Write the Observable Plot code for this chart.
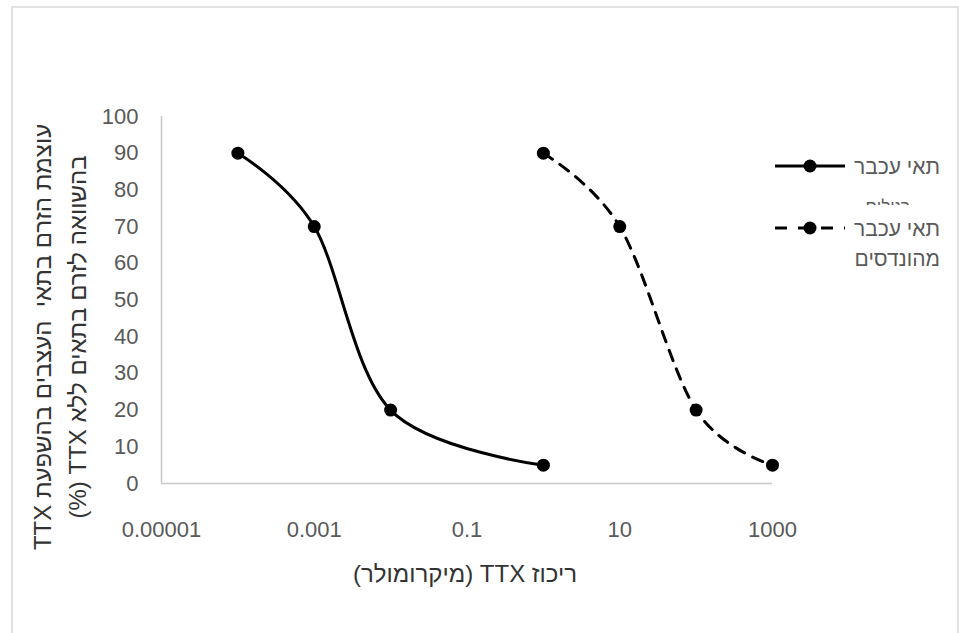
<!DOCTYPE html>
<html>
<head>
<meta charset="utf-8">
<script src="https://cdn.jsdelivr.net/npm/d3@7"></script>
<script src="https://cdn.jsdelivr.net/npm/@observablehq/plot@0.6"></script>
<style>
  html, body { margin: 0; padding: 0; background: #fff; }
  #chart { width: 959px; height: 633px; overflow: hidden; }
</style>
</head>
<body>
<div id="chart"></div>
<script>
// ---- data ----
const normalConc = [0.0001, 0.001, 0.01, 1];
const normalPct = [90, 70, 20, 5];
const engConc = [1, 10, 100, 1000];
const engPct = [90, 70, 20, 5];
const xTicks = [0.00001, 0.001, 0.1, 10, 1000];
const xTickLabels = ["0.00001", "0.001", "0.1", "10", "1000"];
const yTicks = [0, 10, 20, 30, 40, 50, 60, 70, 80, 90, 100];
const seriesNames = ["תאי עכבר רגילים", "תאי עכבר מהונדסים"];
const xTitle = "ריכוז TTX (מיקרומולר)";
const yTitleLines = ["עוצמת הזרם בתאי  העצבים בהשפעת TTX", "בהשוואה לזרם בתאים ללא TTX (%)"];

const normal = normalConc.map((c, i) => ({x: c, y: normalPct[i]}));
const eng = engConc.map((c, i) => ({x: c, y: engPct[i]}));
const tickLabel = new Map(xTicks.map((t, i) => [t, xTickLabels[i]]));

const FONT = "'Liberation Sans', Arial, sans-serif";

const plot = Plot.plot({
  width: 959,
  height: 633,
  marginLeft: 161,
  marginRight: 187,
  marginTop: 116,
  marginBottom: 150,
  style: {fontFamily: FONT, fontSize: "22px", color: "#595959", background: "transparent"},
  x: {type: "log", domain: [0.00001, 1000]},
  y: {domain: [0, 100]},
  marks: [
    Plot.axisX({ticks: xTicks, tickFormat: d => tickLabel.get(d), tickSize: 0, tickPadding: 38, label: null, fontSize: 22}),
    Plot.axisY({ticks: yTicks, tickFormat: d => String(d), tickSize: 0, tickPadding: 23, label: null, fontSize: 22}),
    Plot.ruleY([0], {stroke: "#c8c8c8", strokeWidth: 1.5}),
    Plot.ruleX([0.00001], {stroke: "#c8c8c8", strokeWidth: 1.5}),
    Plot.line(normal, {x: "x", y: "y", curve: "cardinal", tension: 0, stroke: "#000", strokeWidth: 3}),
    Plot.dot(normal, {x: "x", y: "y", r: 6.5, fill: "#000", stroke: null}),
    Plot.line(eng, {x: "x", y: "y", curve: "cardinal", tension: 0, stroke: "#000", strokeWidth: 3, strokeDasharray: "11,9"}),
    Plot.dot(eng, {x: "x", y: "y", r: 6.5, fill: "#000", stroke: null})
  ]
});

document.getElementById("chart").appendChild(plot);
const svg = d3.select(plot);

// outer chart border
svg.insert("rect", ":first-child")
  .attr("x", 12).attr("y", 7).attr("width", 946).attr("height", 640)
  .attr("fill", "none").attr("stroke", "#d9d9d9").attr("stroke-width", 1.5);

// axis titles
svg.append("text")
  .attr("x", 465).attr("y", 573)
  .attr("text-anchor", "middle").attr("dominant-baseline", "central")
  .style("direction", "rtl").style("unicode-bidi", "embed")
  .style("font-family", FONT).style("font-size", "24px").attr("fill", "#333")
  .text(xTitle);

const yCenter = 337;
[42, 77].forEach((xc, i) => {
  svg.append("text")
    .attr("transform", `translate(${xc},${yCenter}) rotate(-90)`)
    .attr("text-anchor", "middle").attr("dominant-baseline", "central")
    .style("direction", "rtl").style("unicode-bidi", "embed").style("white-space", "pre")
    .style("font-family", FONT).style("font-size", "24px").attr("fill", "#333")
    .text(yTitleLines[i]);
});

// legend
const lg = svg.append("g");
function legendItem(y, dashed) {
  lg.append("line").attr("x1", 775).attr("x2", 845).attr("y1", y).attr("y2", y)
    .attr("stroke", "#000").attr("stroke-width", 3)
    .attr("stroke-dasharray", dashed ? "12,11" : null);
  lg.append("circle").attr("cx", 810).attr("cy", y).attr("r", 6.5).attr("fill", "#000");
}
legendItem(166, false);
legendItem(228, true);

function legendText(y, txt, size) {
  return lg.append("text").attr("x", 940).attr("y", y)
    .attr("text-anchor", "end").attr("dominant-baseline", "central")
    .style("font-family", FONT).style("font-size", size + "px").attr("fill", "#595959")
    .text(txt);
}
const words0 = seriesNames[0].split(" ");
const words1 = seriesNames[1].split(" ");
legendText(166, words0.slice(0, 2).join(" "), 21);
// clipped second line of first legend entry
svg.append("defs").append("clipPath").attr("id", "lgclip")
  .append("rect").attr("x", 840).attr("y", 150).attr("width", 110).attr("height", 55);
legendText(206, words0.slice(2).join(" "), 17)
  .attr("x", 910).attr("clip-path", "url(#lgclip)");
legendText(228, words1.slice(0, 2).join(" "), 21);
legendText(258, words1.slice(2).join(" "), 21);
</script>
</body>
</html>
